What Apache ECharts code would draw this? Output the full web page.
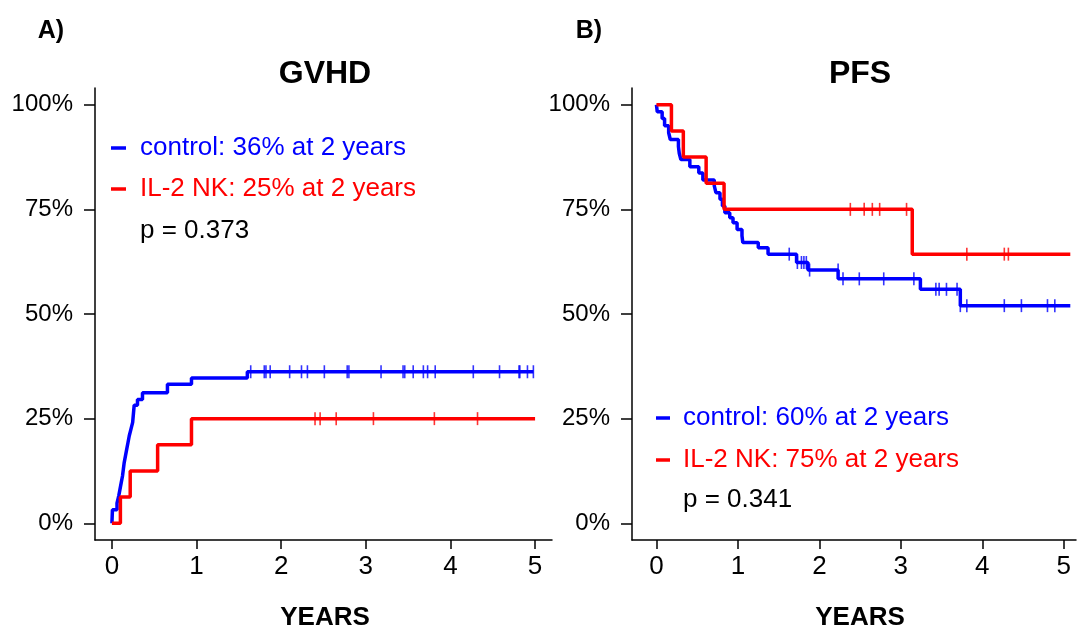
<!DOCTYPE html>
<html>
<head>
<meta charset="utf-8">
<script src="https://cdn.jsdelivr.net/npm/echarts@6/dist/echarts.min.js"></script>
<style>html,body{margin:0;padding:0;background:#fff}#c{width:1078px;height:630px}</style>
</head>
<body>
<div id="c"></div>
<script>
// ---- data ----
const xTicks = [0, 1, 2, 3, 4, 5];
const yTicks = [0, 25, 50, 75, 100];

// GVHD (cumulative incidence, %)
const gvhdCtrlT = [0, 0.006, 0.06, 0.08, 0.095, 0.11, 0.125, 0.135, 0.145, 0.16, 0.175, 0.19, 0.205, 0.225, 0.245, 0.263, 0.302, 0.361, 0.656, 0.94, 1.60, 4.98];
const gvhdCtrlV = [0, 3.2, 4.8, 6.5, 8.1, 9.7, 11.3, 12.9, 14.5, 16.1, 17.7, 19.3, 20.9, 22.5, 24.1, 28.2, 29.6, 31.2, 33.2, 34.7, 36.2, 36.2];
const gvhdCtrlCens = [1.64, 1.80, 1.82, 1.87, 2.10, 2.24, 2.31, 2.51, 2.78, 2.80, 3.18, 3.44, 3.46, 3.56, 3.68, 3.73, 3.82, 4.27, 4.58, 4.81, 4.82, 4.91, 4.98];
const gvhdNkT = [0, 0.10, 0.216, 0.54, 0.94, 5.0];
const gvhdNkV = [0, 6.25, 12.5, 18.75, 25, 25];
const gvhdNkCens = [2.40, 2.46, 2.65, 3.09, 3.81, 4.32];

// PFS (survival, %)
const pfsCtrlT = [0, 0.01, 0.07, 0.10, 0.15, 0.17, 0.27, 0.28, 0.30, 0.41, 0.52, 0.57, 0.71, 0.73, 0.78, 0.81, 0.84, 0.90, 0.94, 0.99, 1.05, 1.06, 1.25, 1.37, 1.72, 1.86, 2.23, 3.24, 3.73, 5.08];
const pfsCtrlV = [100, 98.3, 96.7, 95.0, 93.3, 91.7, 90.0, 88.4, 86.9, 85.2, 83.7, 82.0, 80.6, 79.0, 77.4, 75.8, 74.2, 73.0, 71.8, 70.2, 68.7, 67.1, 65.8, 64.3, 62.3, 60.5, 58.4, 55.9, 52.0, 52.0];
const pfsCtrlCensT = [1.63, 1.73, 1.78, 1.81, 1.84, 1.88, 2.23, 2.29, 2.49, 2.79, 3.16, 3.43, 3.47, 3.56, 3.69, 3.73, 3.81, 4.27, 4.48, 4.80, 4.89];
const pfsCtrlCensV = [64.3, 62.3, 62.3, 62.3, 62.3, 60.5, 60.5, 58.4, 58.4, 58.4, 58.4, 55.9, 55.9, 55.9, 55.9, 52.0, 52.0, 52.0, 52.0, 52.0, 52.0];
const pfsNkT = [0, 0.184, 0.33, 0.61, 0.83, 3.14, 5.08];
const pfsNkV = [100, 93.75, 87.5, 81.25, 75, 64.3, 64.3];
const pfsNkCens = [2.38, 2.55, 2.65, 2.74, 3.07, 3.81, 4.27, 4.32];
const pfsNkCensV = [75, 75, 75, 75, 75, 64.3, 64.3, 64.3];

const BLUE = '#0000ff', RED = '#ff0000';
const FONT = '"Liberation Sans", Arial, Helvetica, sans-serif';

const zip = (a, b) => a.map((v, i) => [v, b[i]]);
const cens = (t, v) => t.map((x, i) => [x, Array.isArray(v) ? v[i] : v]);

function xAx(idx, min, max) {
  return {
    type: 'value', gridIndex: idx, min: min, max: max,
    axisLine: { show: true, onZero: false, lineStyle: { color: '#000', width: 1.5 } },
    axisTick: { show: true, length: 9, customValues: xTicks, lineStyle: { color: '#000', width: 1.5 } },
    axisLabel: { customValues: xTicks, fontSize: 26, color: '#000', fontFamily: FONT, margin: 14 },
    splitLine: { show: false }
  };
}
function yAx(idx) {
  return {
    type: 'value', gridIndex: idx, min: -4, max: 104,
    axisLine: { show: true, onZero: false, lineStyle: { color: '#000', width: 1.5 } },
    axisTick: { show: true, length: 11, customValues: yTicks, lineStyle: { color: '#000', width: 1.5 } },
    axisLabel: { customValues: yTicks, formatter: v => v + '%', fontSize: 24, color: '#000', fontFamily: FONT, margin: 22 },
    splitLine: { show: false }
  };
}
function stepLine(idx, data, color) {
  return { type: 'line', xAxisIndex: idx, yAxisIndex: idx, data: data, step: 'end', showSymbol: false,
    lineStyle: { color: color, width: 3.5 }, itemStyle: { color: color }, z: 3 };
}
function censMarks(idx, data, color) {
  return { type: 'scatter', xAxisIndex: idx, yAxisIndex: idx, data: data, symbol: 'rect', symbolSize: [1.6, 13],
    itemStyle: { color: color }, z: 4 };
}
function seg(x1, x2, y, color) {
  return { type: 'line', shape: { x1: x1, y1: y, x2: x2, y2: y }, style: { stroke: color, lineWidth: 3.5 } };
}

const chart = echarts.init(document.getElementById('c'), null, { renderer: 'canvas' });
chart.setOption({
  animation: false,
  backgroundColor: '#fff',
  grid: [
    { left: 95, top: 88, width: 457, height: 452 },
    { left: 632, top: 88, width: 444, height: 452 }
  ],
  xAxis: [xAx(0, -0.2, 5.2), xAx(1, -0.3, 5.15)],
  yAxis: [yAx(0), yAx(1)],
  series: [
    stepLine(0, zip(gvhdCtrlT, gvhdCtrlV), BLUE),
    censMarks(0, cens(gvhdCtrlCens, 36.2), BLUE),
    stepLine(0, zip(gvhdNkT, gvhdNkV), RED),
    censMarks(0, cens(gvhdNkCens, 25), RED),
    stepLine(1, zip(pfsCtrlT, pfsCtrlV), BLUE),
    censMarks(1, cens(pfsCtrlCensT, pfsCtrlCensV), BLUE),
    stepLine(1, zip(pfsNkT, pfsNkV), RED),
    censMarks(1, cens(pfsNkCens, pfsNkCensV), RED)
  ],
  graphic: [
    { type: 'text', x: 51, y: 31, style: { text: 'A)', fontFamily: FONT, fontSize: 25, fontWeight: 'bold', fill: '#000', align: 'center', verticalAlign: 'middle' } },
    { type: 'text', x: 589, y: 31, style: { text: 'B)', fontFamily: FONT, fontSize: 25, fontWeight: 'bold', fill: '#000', align: 'center', verticalAlign: 'middle' } },
    { type: 'text', x: 325, y: 74, style: { text: 'GVHD', fontFamily: FONT, fontSize: 32, fontWeight: 'bold', fill: '#000', align: 'center', verticalAlign: 'middle' } },
    { type: 'text', x: 860, y: 74, style: { text: 'PFS', fontFamily: FONT, fontSize: 32, fontWeight: 'bold', fill: '#000', align: 'center', verticalAlign: 'middle' } },
    { type: 'text', x: 325, y: 618, style: { text: 'YEARS', fontFamily: FONT, fontSize: 26, fontWeight: 'bold', fill: '#000', align: 'center', verticalAlign: 'middle' } },
    { type: 'text', x: 860, y: 618, style: { text: 'YEARS', fontFamily: FONT, fontSize: 26, fontWeight: 'bold', fill: '#000', align: 'center', verticalAlign: 'middle' } },
    seg(111, 126, 148, BLUE), seg(111, 126, 189, RED),
    { type: 'text', x: 140, y: 148, style: { text: 'control: 36% at 2 years', fontFamily: FONT, fontSize: 26, fill: BLUE, verticalAlign: 'middle' } },
    { type: 'text', x: 140, y: 189, style: { text: 'IL-2 NK: 25% at 2 years', fontFamily: FONT, fontSize: 26, fill: RED, verticalAlign: 'middle' } },
    { type: 'text', x: 140, y: 231, style: { text: 'p = 0.373', fontFamily: FONT, fontSize: 26, fill: '#000', verticalAlign: 'middle' } },
    seg(656, 670, 418, BLUE), seg(656, 670, 460, RED),
    { type: 'text', x: 683, y: 418, style: { text: 'control: 60% at 2 years', fontFamily: FONT, fontSize: 26, fill: BLUE, verticalAlign: 'middle' } },
    { type: 'text', x: 683, y: 460, style: { text: 'IL-2 NK: 75% at 2 years', fontFamily: FONT, fontSize: 26, fill: RED, verticalAlign: 'middle' } },
    { type: 'text', x: 683, y: 500, style: { text: 'p = 0.341', fontFamily: FONT, fontSize: 26, fill: '#000', verticalAlign: 'middle' } }
  ]
});
</script>
</body>
</html>
